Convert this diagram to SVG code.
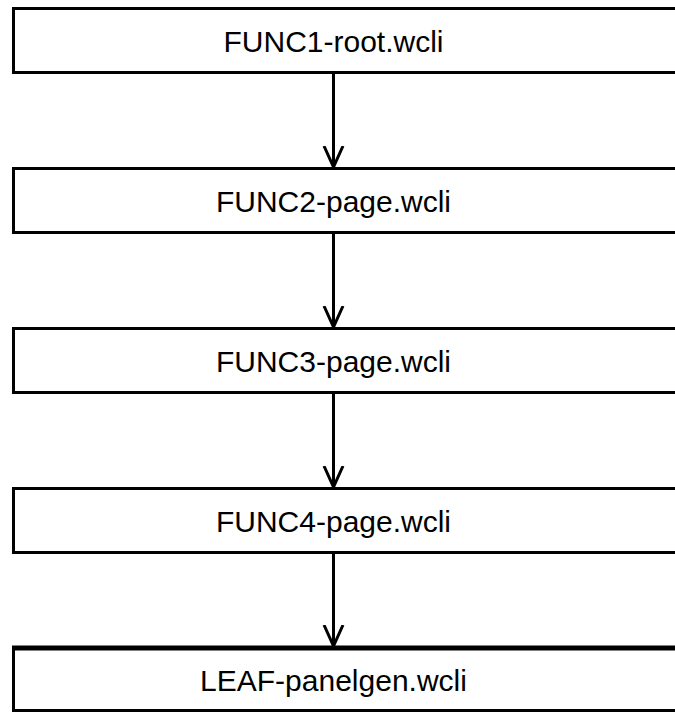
<svg xmlns="http://www.w3.org/2000/svg" width="675" height="713" viewBox="0 0 675 713">
<style>
.box{fill:#fff;stroke:#000;stroke-width:3}
.lbl{font-family:"Liberation Sans",Arial,sans-serif;font-size:30px;fill:#000;text-anchor:middle}
.edge{stroke:#000;stroke-width:3;fill:none}
</style>
<defs>
<marker id="arr" markerUnits="userSpaceOnUse" markerWidth="24" markerHeight="26" refX="21" refY="10" orient="auto" viewBox="0 0 24 20">
<path d="M0,0.5 L21,10 L0,19.5" fill="none" stroke="#000" stroke-width="3"/>
</marker>
</defs>
<rect width="675" height="713" fill="#fff"/>
<g id="connectors">
<line class="edge" x1="333.5" y1="73" x2="333.5" y2="167" marker-end="url(#arr)"/>
<line class="edge" x1="333.5" y1="233" x2="333.5" y2="327" marker-end="url(#arr)"/>
<line class="edge" x1="333.5" y1="393" x2="333.5" y2="487" marker-end="url(#arr)"/>
<line class="edge" x1="333.5" y1="553" x2="333.5" y2="646" marker-end="url(#arr)"/>
</g>
<g id="node1">
<rect class="box" x="13.5" y="8.5" width="700" height="64"/>
<text class="lbl" x="333.5" y="51.5">FUNC1-root.wcli</text>
</g>
<g id="node2">
<rect class="box" x="13.5" y="168.5" width="700" height="64"/>
<text class="lbl" x="333.5" y="211.5">FUNC2-page.wcli</text>
</g>
<g id="node3">
<rect class="box" x="13.5" y="328.5" width="700" height="64"/>
<text class="lbl" x="333.5" y="371.5">FUNC3-page.wcli</text>
</g>
<g id="node4">
<rect class="box" x="13.5" y="488.5" width="700" height="64"/>
<text class="lbl" x="333.5" y="531.5">FUNC4-page.wcli</text>
</g>
<g id="node5">
<rect class="box" x="13.5" y="648.5" width="700" height="62"/>
<line x1="12" y1="648" x2="675" y2="648" stroke="#000" stroke-width="5"/>
<text class="lbl" x="333.5" y="690.5">LEAF-panelgen.wcli</text>
</g>
</svg>
